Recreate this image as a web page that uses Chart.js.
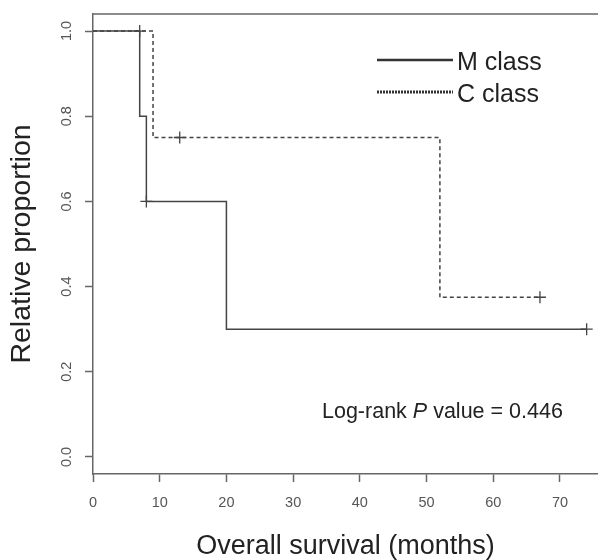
<!DOCTYPE html>
<html>
<head>
<meta charset="utf-8">
<script src="https://cdn.jsdelivr.net/npm/chart.js@4/dist/chart.umd.min.js"></script>
<style>
  html, body { margin: 0; padding: 0; background: #fff; overflow: hidden; }
  #wrap { width: 598px; height: 560px; }
</style>
</head>
<body>
<div id="wrap"><canvas id="km" width="598" height="560"></canvas></div>
<script>
// Kaplan-Meier steps
const seriesLabels = ["M class", "C class"];
const mTimes = [0, 7, 8, 20, 74];
const mSurv = [1.0, 0.8, 0.6, 0.3, 0.3];
const cTimes = [0, 9, 52, 67];
const cSurv = [1.0, 0.75, 0.375, 0.375];
// censor marks (+)
const mCensorTimes = [7, 8, 74];
const mCensorSurv = [1.0, 0.6, 0.3];
const cCensorTimes = [13, 67];
const cCensorSurv = [0.75, 0.375];
// axes
const xTicks = [0, 10, 20, 30, 40, 50, 60, 70];
const yTicks = [0, 0.2, 0.4, 0.6, 0.8, 1.0];
const pValueText = "0.446";

const FONT = "'Liberation Sans', Arial, sans-serif";
const LINE = "#444";
const AXIS = "#666";

const pts = (xs, ys) => xs.map((x, i) => ({ x: x, y: ys[i] }));

const boxTop = {
  id: "boxTop",
  afterDraw(chart) {
    const { ctx, chartArea: a } = chart;
    ctx.save();
    ctx.strokeStyle = AXIS;
    ctx.lineWidth = 1.5;
    ctx.beginPath();
    ctx.moveTo(a.left, a.top);
    ctx.lineTo(a.right, a.top);
    ctx.stroke();
    ctx.restore();
  },
};

const legendAndNote = {
  id: "legendAndNote",
  afterDraw(chart) {
    const ctx = chart.ctx;
    const ds = chart.data.datasets;
    ctx.save();
    // legend
    const rows = [
      { d: ds[0], y: 60, dash: [], w: 2.5 },
      { d: ds[1], y: 92, dash: [2, 1], w: 3 },
    ];
    rows.forEach((r) => {
      ctx.strokeStyle = "#333";
      ctx.lineWidth = r.w;
      ctx.setLineDash(r.dash);
      ctx.beginPath();
      ctx.moveTo(377, r.y);
      ctx.lineTo(453, r.y);
      ctx.stroke();
      ctx.setLineDash([]);
      ctx.fillStyle = "#222";
      ctx.font = "25px " + FONT;
      ctx.textBaseline = "alphabetic";
      ctx.textAlign = "left";
      ctx.fillText(r.d.label, 457, r.y + 10);
    });
    // log-rank note
    let x = 322;
    const y = 418;
    const parts = [
      ["Log-rank ", "normal"],
      ["P", "italic"],
      [" value = " + pValueText, "normal"],
    ];
    parts.forEach((p) => {
      ctx.font = p[1] + " 21.5px " + FONT;
      ctx.fillText(p[0], x, y);
      x += ctx.measureText(p[0]).width;
    });
    ctx.restore();
  },
};

new Chart(document.getElementById("km"), {
  type: "line",
  data: {
    datasets: [
      {
        label: seriesLabels[0],
        data: pts(mTimes, mSurv),
        stepped: true,
        borderColor: LINE,
        borderWidth: 1.5,
        pointRadius: 0,
        fill: false,
      },
      {
        label: seriesLabels[1],
        data: pts(cTimes, cSurv),
        stepped: true,
        borderColor: LINE,
        borderWidth: 1.5,
        borderDash: [4, 3],
        pointRadius: 0,
        fill: false,
      },
      {
        label: "M censored",
        data: pts(mCensorTimes, mCensorSurv),
        showLine: false,
        pointStyle: "cross",
        pointRadius: 6,
        pointBorderWidth: 1.3,
        pointBorderColor: LINE,
      },
      {
        label: "C censored",
        data: pts(cCensorTimes, cCensorSurv),
        showLine: false,
        pointStyle: "cross",
        pointRadius: 6,
        pointBorderWidth: 1.3,
        pointBorderColor: LINE,
      },
    ],
  },
  options: {
    responsive: false,
    animation: false,
    devicePixelRatio: 1,
    layout: { autoPadding: false, padding: { top: 14, right: 0, left: 0, bottom: 0 } },
    plugins: {
      legend: { display: false },
      tooltip: { enabled: false },
    },
    scales: {
      x: {
        type: "linear",
        min: 0,
        max: 75.7,
        afterBuildTicks: (s) => (s.ticks = xTicks.map((v) => ({ value: v }))),
        afterFit: (s) => {
          s.height = 86;
          s.paddingLeft = 0;
          s.paddingRight = 0;
        },
        grid: {
          drawOnChartArea: false,
          drawTicks: true,
          tickLength: 8,
          tickColor: AXIS,
          tickWidth: 1.5,
        },
        border: { display: true, color: AXIS, width: 1.5 },
        ticks: {
          color: "#555",
          font: { family: FONT, size: 14.5 },
          padding: 12,
          maxRotation: 0,
        },
        title: {
          display: true,
          text: "Overall survival (months)",
          color: "#222",
          font: { family: FONT, size: 27, lineHeight: 1 },
          padding: { top: 0, bottom: 0 },
        },
      },
      y: {
        type: "linear",
        min: -0.04,
        max: 1.04,
        afterBuildTicks: (s) => (s.ticks = yTicks.map((v) => ({ value: v }))),
        afterFit: (s) => {
          s.width = 93;
          s.paddingTop = 0;
          s.paddingBottom = 0;
        },
        grid: {
          drawOnChartArea: false,
          drawTicks: true,
          tickLength: 8,
          tickColor: AXIS,
          tickWidth: 1.5,
        },
        border: { display: true, color: AXIS, width: 1.5 },
        ticks: {
          color: "#555",
          font: { family: FONT, size: 14.5 },
          padding: 8,
          minRotation: 90,
          maxRotation: 90,
          crossAlign: "center",
          callback: (v) => Number(v).toFixed(1),
        },
        title: {
          display: true,
          text: "Relative proportion",
          color: "#222",
          font: { family: FONT, size: 28.5, lineHeight: 1 },
          padding: { top: 8, bottom: 0 },
        },
      },
    },
  },
  plugins: [boxTop, legendAndNote],
});
</script>
</body>
</html>
